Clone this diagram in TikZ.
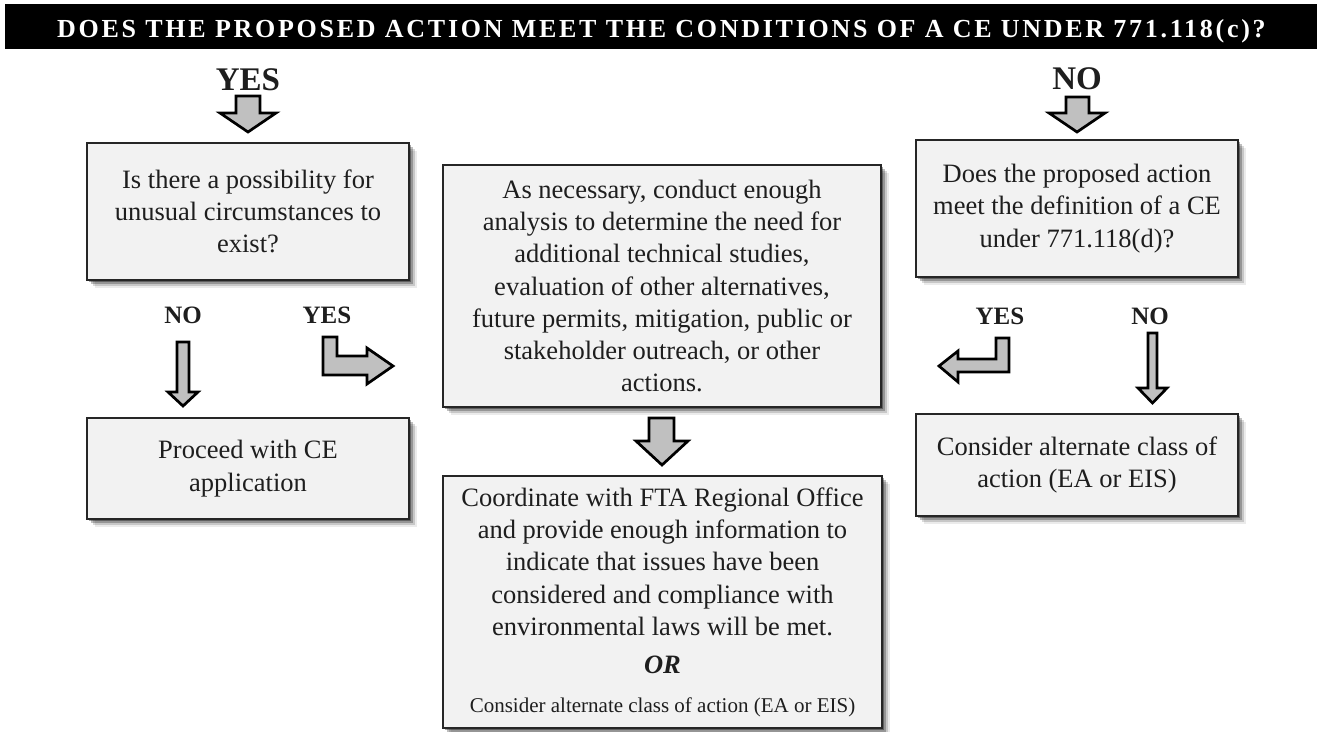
\documentclass[tikz,border=0pt]{standalone}
\usepackage{fontspec}
\setmainfont{Liberation Serif}
\newfontfamily\titlefont[LetterSpace=10.5]{Liberation Serif}
\usetikzlibrary{shadows}
\definecolor{boxfill}{RGB}{242,242,242}
\definecolor{arrowfill}{RGB}{192,192,192}
\definecolor{inkc}{RGB}{30,30,30}
\begin{document}
\begin{tikzpicture}[x=1pt,y=-1pt,
  softshadow/.style={
    drop shadow={shadow xshift=2pt,shadow yshift=-2pt,opacity=.35,fill=black},
    drop shadow={shadow xshift=4pt,shadow yshift=-4pt,opacity=.25,fill=black},
    drop shadow={shadow xshift=6pt,shadow yshift=-6pt,opacity=.15,fill=black},
    drop shadow={shadow xshift=8pt,shadow yshift=-8pt,opacity=.08,fill=black}},
  box/.style={draw=black!85, line width=1.4pt, fill=boxfill, inner sep=0pt,
    align=center, text=inkc, font=\fontsize{26.5}{32.3}\selectfont, softshadow},
  blockarrow/.style={draw=black, fill=arrowfill, line width=2.7pt, line join=miter},
  biglabel/.style={anchor=base, text=inkc, font=\bfseries\fontsize{33}{33}\selectfont, inner sep=0pt},
  smalllabel/.style={anchor=base, text=inkc, font=\bfseries\fontsize{25}{25}\selectfont, inner sep=0pt}]
\useasboundingbox (0,0) rectangle (1317,731);
\fill[white] (0,0) rectangle (1317,731);

% title bar
\fill[black] (5,4) rectangle (1317,49);
\node[anchor=base, text=white, inner sep=0pt, font=\titlefont\bfseries\fontsize{26}{26}\selectfont] (title) at (661.5,37)
  {DOES THE PROPOSED ACTION MEET THE CONDITIONS OF A CE UNDER 771.118(c)?};

% boxes
\node[box, minimum width=322pt, minimum height=137pt] (qa) at (248,211.5)
  {Is there a possibility for\\unusual circumstances to\\exist?};
\node[box, minimum width=438pt, minimum height=242pt] (an) at (662,286)
  {As necessary, conduct enough\\analysis to determine the need for\\additional technical studies,\\evaluation of other alternatives,\\future permits, mitigation, public or\\stakeholder outreach, or other\\actions.};
\node[box, minimum width=322pt, minimum height=137pt] (qc) at (1077,208.5)
  {Does the proposed action\\meet the definition of a CE\\under 771.118(d)?};
\node[box, minimum width=322pt, minimum height=101pt] (pr) at (248,468.5)
  {Proceed with CE\\application};
\node[box, minimum width=439pt, minimum height=252pt] (co) at (662.5,602)
  {Coordinate with FTA Regional Office\\and provide enough information to\\indicate that issues have been\\considered and compliance with\\environmental laws will be met.\\[6pt]{\bfseries\itshape OR}\\[6pt]{\fontsize{21}{24}\selectfont Consider alternate class of action (EA or EIS)}};
\node[box, minimum width=322pt, minimum height=102pt] (al) at (1077,465)
  {Consider alternate class of\\action (EA or EIS)};

% labels
\node[biglabel] (yestop) at (248,90) {YES};
\node[biglabel] (notop) at (1077,89) {NO};
\node[smalllabel] (noleft) at (183,323) {NO};
\node[smalllabel] (yesleft) at (327,323) {YES};
\node[smalllabel] (yesright) at (1000,324) {YES};
\node[smalllabel] (noright) at (1150,324) {NO};

% block arrows
\draw[blockarrow] (236,96) -- (260,96) -- (260,113) -- (276,113) -- (248,132) -- (220,113) -- (236,113) -- cycle;
\draw[blockarrow] (1066,97) -- (1089,97) -- (1089,113) -- (1105,113) -- (1077,132) -- (1049,113) -- (1066,113) -- cycle;
\draw[blockarrow] (649,418) -- (674,418) -- (674,441) -- (688,441) -- (662,465) -- (636,441) -- (649,441) -- cycle;
\draw[blockarrow] (177,342) -- (189,342) -- (189,392) -- (198,392) -- (183,406) -- (168,392) -- (177,392) -- cycle;
\draw[blockarrow] (323,337) -- (337,337) -- (337,356) -- (367,356) -- (367,348) -- (393,366) -- (367,384) -- (367,375) -- (323,375) -- cycle;
\draw[blockarrow] (1009,338) -- (996,338) -- (996,359) -- (958,359) -- (958,351) -- (939,366) -- (958,382) -- (958,372) -- (1009,372) -- cycle;
\draw[blockarrow] (1148,333) -- (1157,333) -- (1157,388) -- (1167,388) -- (1152.5,403) -- (1138,388) -- (1148,388) -- cycle;
\end{tikzpicture}
\end{document}
